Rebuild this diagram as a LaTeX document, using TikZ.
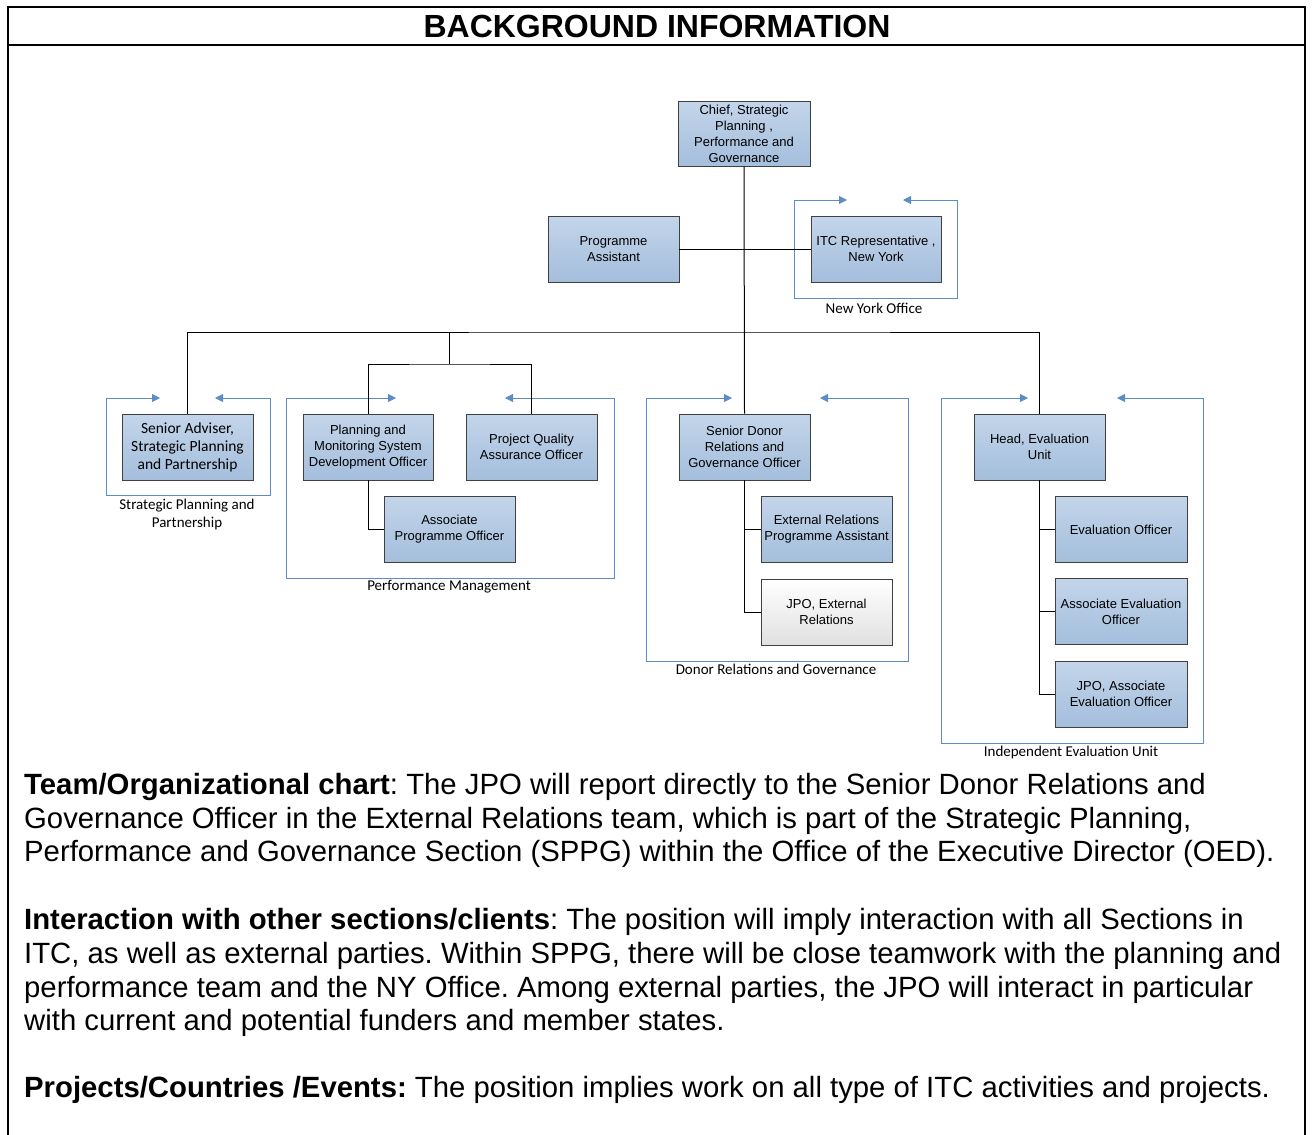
\documentclass[tikz,border=0pt]{standalone}
\usepackage{fontspec}
\setmainfont{Liberation Sans}
\newfontfamily\calibri{Carlito}
\usetikzlibrary{arrows.meta}
\begin{document}
\frenchspacing
\begin{tikzpicture}[x=1pt,y=-1pt,
  post/.style={draw=boxline,line width=0.8pt,top color=boxtop,bottom color=boxbot,
    minimum width=131pt,minimum height=66pt,inner sep=1pt,align=center,
    font=\fontsize{13}{16}\selectfont},
  postwhite/.style={post,top color=white,bottom color=white!88!black},
  group/.style={draw=grpblue,line width=0.8pt,{Triangle[length=8pt,width=8pt]}-{Triangle[length=8pt,width=8pt]}},
  grplabel/.style={font=\calibri\fontsize{15}{18}\selectfont,align=center},
  link/.style={draw=black,line width=1pt},
  bodyline/.style={anchor=west,inner sep=0pt,font=\fontsize{29.3}{33}\selectfont}]
  \definecolor{boxtop}{HTML}{C3D5EA}
  \definecolor{boxbot}{HTML}{A4BEDC}
  \definecolor{boxline}{HTML}{404040}
  \definecolor{grpblue}{HTML}{5B8CC4}
  \path[use as bounding box] (0,0) rectangle (1312,1135);
  % page frame
  \draw[line width=2pt] (8,1136) -- (8,7) -- (1305,7) -- (1305,1136);
  \draw[line width=2pt] (8,45) -- (1305,45);
  \node (title) at (657,26) {\fontsize{32}{34}\selectfont\bfseries BACKGROUND INFORMATION};
  % group frames
  \draw[group] (847,200) -- (794,200) -- (794,298) -- (957,298) -- (957,200) -- (903,200);
  \draw[group] (160,398) -- (106,398) -- (106,495) -- (270,495) -- (270,398) -- (215,398);
  \draw[group] (396,398) -- (286,398) -- (286,578) -- (614,578) -- (614,398) -- (505,398);
  \draw[group] (732,398) -- (646,398) -- (646,661) -- (908,661) -- (908,398) -- (820,398);
  \draw[group] (1028,398) -- (941,398) -- (941,743) -- (1203,743) -- (1203,398) -- (1117,398);
  \node[grplabel] (nylab) at (874,308) {New York Office};
  \node[grplabel] (splab) at (187,514) {Strategic Planning and\\Partnership};
  \node[grplabel] (pmlab) at (449,587) {Performance Management};
  \node[grplabel] (drlab) at (776,669) {Donor Relations and Governance};
  \node[grplabel] (ielab) at (1071,752) {Independent Evaluation Unit};
  % posts
  \node[post,minimum width=132pt,minimum height=65pt] (chief) at (744,133.5) {Chief, Strategic\\Planning ,\\Performance and\\Governance};
  \node[post] (pa) at (613.5,249) {Programme\\Assistant};
  \node[post,minimum width=130pt] (nyrep) at (876,249) {ITC Representative ,\\New York};
  \node[post,font=\calibri\fontsize{15.5}{18}\selectfont] (sa) at (187.5,447) {Senior Adviser,\\Strategic Planning\\and Partnership};
  \node[post,minimum width=130pt] (pmsdo) at (368,447) {Planning and\\Monitoring System\\Development Officer};
  \node[post] (pqao) at (531.5,447) {Project Quality\\Assurance Officer};
  \node[post] (apo) at (449.5,529.5) {Associate\\Programme Officer};
  \node[post] (donor) at (744.5,447) {Senior Donor\\Relations and\\Governance Officer};
  \node[post] (erpa) at (826.5,529.5) {External Relations\\Programme Assistant};
  \node[postwhite] (jpoer) at (826.5,612) {JPO, External\\Relations};
  \node[post] (head) at (1039.5,447) {Head, Evaluation\\Unit};
  \node[post,minimum width=132pt] (evo) at (1121,529.5) {Evaluation Officer};
  \node[post,minimum width=132pt] (aeo) at (1121,611.5) {Associate Evaluation\\Officer};
  \node[post,minimum width=132pt] (jpoeo) at (1121,694) {JPO, Associate\\Evaluation Officer};
  % reporting lines
  \coordinate (bus) at (744,332);
  \coordinate (pmbus) at (449,364);
  \draw[link] (chief.south) -- (donor.north);
  \draw[link] (pa.east) -- (nyrep.west);
  \draw[link] (sa.north) |- (bus) -| (head.north);
  \draw[link] (pmsdo.north) |- (pmbus) -| (pqao.north);
  \draw[link] (pmbus) -- (pmbus |- bus);
  \draw[link] (pmsdo.south) |- (apo.west);
  \draw[link] (donor.south) |- (erpa.west);
  \draw[link] (donor.south) |- (jpoer.west);
  \draw[link] (head.south) |- (evo.west);
  \draw[link] (head.south) |- (aeo.west);
  \draw[link] (head.south) |- (jpoeo.west);
  % text
  \node[bodyline] (t1) at (24,787) {\textbf{Team/Organizational chart}: The JPO will report directly to the Senior Donor Relations and};
  \node[bodyline] (t2) at (24,821) {Governance Officer in the External Relations team, which is part of the Strategic Planning,};
  \node[bodyline] (t3) at (24,854) {Performance and Governance Section (SPPG) within the Office of the Executive Director (OED).};
  \node[bodyline] (i1) at (24,922) {\textbf{Interaction with other sections/clients}: The position will imply interaction with all Sections in};
  \node[bodyline] (i2) at (24,956) {ITC, as well as external parties. Within SPPG, there will be close teamwork with the planning and};
  \node[bodyline] (i3) at (24,990) {performance team and the NY Office. Among external parties, the JPO will interact in particular};
  \node[bodyline] (i4) at (24,1023) {with current and potential funders and member states.};
  \node[bodyline] (p1) at (24,1090) {\textbf{Projects/Countries /Events:} The position implies work on all type of ITC activities and projects.};
\end{tikzpicture}
\end{document}
